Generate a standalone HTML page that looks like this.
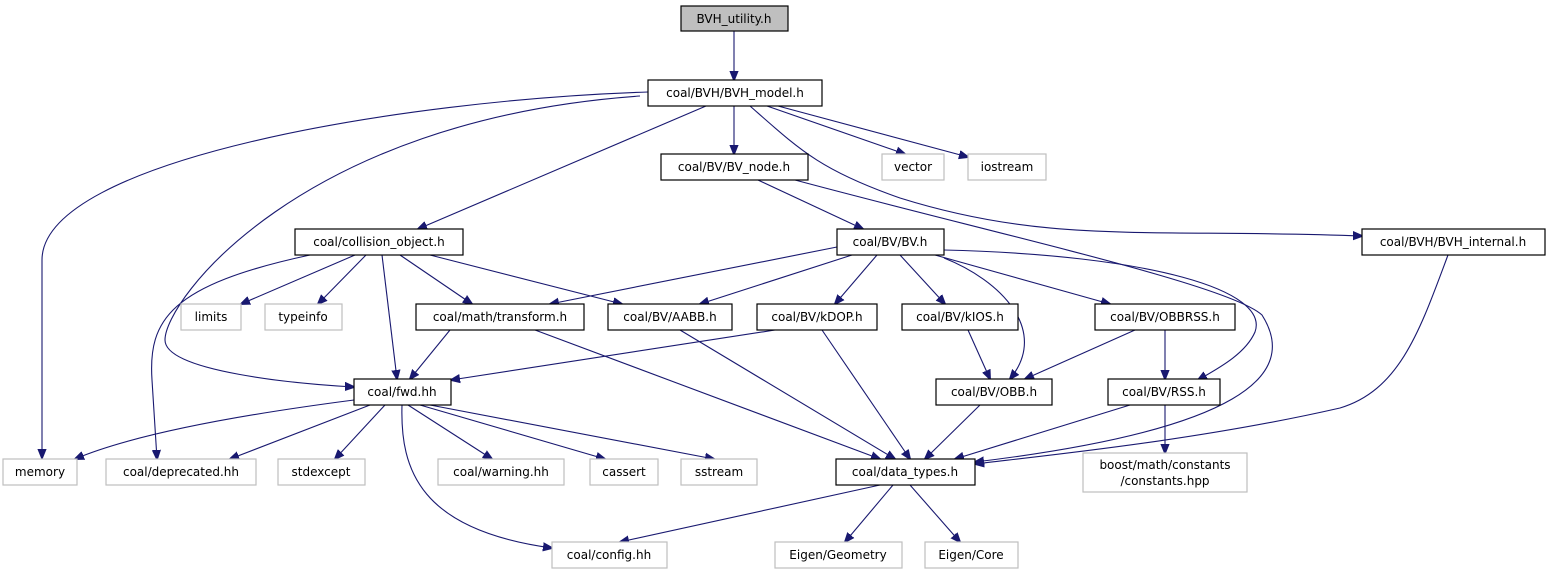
<!DOCTYPE html>
<html><head><meta charset="utf-8"><style>
html,body{margin:0;padding:0;background:#fff;}
svg{display:block;}
text{font-family:"DejaVu Sans","Liberation Sans",sans-serif;font-size:12px;text-anchor:middle;fill:#000;}
.n rect{fill:#fff;stroke:#000;stroke-width:1.2;}
.g rect{fill:#fff;stroke:#bfbfbf;stroke-width:1.2;}
path{fill:none;stroke:#191970;stroke-width:1.1;}
</style></head><body>
<svg width="1550" height="575" viewBox="0 0 1550 575" xmlns="http://www.w3.org/2000/svg">
<defs><marker id="a" markerWidth="10" markerHeight="10" refX="9" refY="5" orient="auto" markerUnits="userSpaceOnUse"><path d="M0,1 L10,5 L0,9 Z" style="fill:#191970;stroke:#191970"/></marker></defs>
<g marker-end="url(#a)">
<path d="M734,31 L734,80"/>
<path d="M648,92 C400,100 42,160 42,260 L42,458"/>
<path d="M640,96 C300,120 165,300 165,340 C165,372 300,384 354,387"/>
<path d="M706,106 L418,229"/>
<path d="M734,106 L734,154"/>
<path d="M767,106 L905,154"/>
<path d="M778,106 L968,157"/>
<path d="M750,106 C800,150 820,170 900,198 C1050,245 1150,228 1362,236"/>
<path d="M758,180 L863,229"/>
<path d="M795,180 C1000,235 1230,285 1262,315 C1300,375 1240,430 975,462"/>
<path d="M1448,255 C1420,330 1400,390 1340,408 C1200,440 1050,455 975,464"/>
<path d="M355,255 L241,304"/>
<path d="M366,255 L318,304"/>
<path d="M400,255 L472,304"/>
<path d="M430,255 L622,304"/>
<path d="M382,255 L397,379"/>
<path d="M310,255 C170,285 148,320 152,380 L157,459"/>
<path d="M837,247 L550,304"/>
<path d="M852,255 L700,304"/>
<path d="M877,255 L835,304"/>
<path d="M900,255 L945,304"/>
<path d="M935,255 L1110,304"/>
<path d="M944,258 C1000,280 1050,330 1010,379"/>
<path d="M944,250 C1150,255 1270,290 1255,332 C1245,355 1215,370 1198,380"/>
<path d="M450,330 L410,379"/>
<path d="M535,330 L880,459"/>
<path d="M680,330 L895,459"/>
<path d="M775,330 L451,380"/>
<path d="M822,330 L910,459"/>
<path d="M968,330 L990,379"/>
<path d="M1135,330 L1025,379"/>
<path d="M1165,330 L1165,379"/>
<path d="M980,405 L925,459"/>
<path d="M1130,405 L955,459"/>
<path d="M1165,405 L1165,453"/>
<path d="M354,400 C200,420 120,440 75,459"/>
<path d="M370,405 L230,459"/>
<path d="M385,405 L335,459"/>
<path d="M408,405 L492,459"/>
<path d="M420,405 L605,459"/>
<path d="M430,405 L714,459"/>
<path d="M402,405 C400,470 420,530 552,548"/>
<path d="M880,485 L620,542"/>
<path d="M893,485 L845,542"/>
<path d="M910,485 L960,542"/>
</g>
<g class="n"><rect x="681" y="6" width="107" height="25" style="fill:#bfbfbf"/><text x="734" y="23">BVH_utility.h</text></g>
<g class="n"><rect x="648" y="80" width="174" height="26"/><text x="735" y="97">coal/BVH/BVH_model.h</text></g>
<g class="n"><rect x="661" y="154" width="147" height="26"/><text x="734" y="171">coal/BV/BV_node.h</text></g>
<g class="g"><rect x="882" y="154" width="62" height="26"/><text x="913" y="171">vector</text></g>
<g class="g"><rect x="968" y="154" width="78" height="26"/><text x="1007" y="171">iostream</text></g>
<g class="n"><rect x="295" y="229" width="168" height="26"/><text x="379" y="246">coal/collision_object.h</text></g>
<g class="n"><rect x="837" y="229" width="107" height="26"/><text x="890" y="246">coal/BV/BV.h</text></g>
<g class="n"><rect x="1362" y="229" width="183" height="26"/><text x="1453" y="246">coal/BVH/BVH_internal.h</text></g>
<g class="g"><rect x="181" y="304" width="60" height="26"/><text x="211" y="321">limits</text></g>
<g class="g"><rect x="265" y="304" width="77" height="26"/><text x="303" y="321">typeinfo</text></g>
<g class="n"><rect x="416" y="304" width="168" height="26"/><text x="500" y="321">coal/math/transform.h</text></g>
<g class="n"><rect x="608" y="304" width="124" height="26"/><text x="670" y="321">coal/BV/AABB.h</text></g>
<g class="n"><rect x="757" y="304" width="120" height="26"/><text x="817" y="321">coal/BV/kDOP.h</text></g>
<g class="n"><rect x="902" y="304" width="116" height="26"/><text x="960" y="321">coal/BV/kIOS.h</text></g>
<g class="n"><rect x="1095" y="304" width="140" height="26"/><text x="1165" y="321">coal/BV/OBBRSS.h</text></g>
<g class="n"><rect x="354" y="379" width="97" height="26"/><text x="402" y="396">coal/fwd.hh</text></g>
<g class="n"><rect x="936" y="379" width="116" height="26"/><text x="994" y="396">coal/BV/OBB.h</text></g>
<g class="n"><rect x="1108" y="379" width="112" height="26"/><text x="1164" y="396">coal/BV/RSS.h</text></g>
<g class="g"><rect x="3" y="459" width="74" height="26"/><text x="40" y="476">memory</text></g>
<g class="g"><rect x="106" y="459" width="150" height="26"/><text x="181" y="476">coal/deprecated.hh</text></g>
<g class="g"><rect x="278" y="459" width="87" height="26"/><text x="321" y="476">stdexcept</text></g>
<g class="g"><rect x="438" y="459" width="126" height="26"/><text x="501" y="476">coal/warning.hh</text></g>
<g class="g"><rect x="590" y="459" width="68" height="26"/><text x="624" y="476">cassert</text></g>
<g class="g"><rect x="681" y="459" width="76" height="26"/><text x="719" y="476">sstream</text></g>
<g class="n"><rect x="836" y="459" width="139" height="26"/><text x="905" y="476">coal/data_types.h</text></g>
<g class="g"><rect x="1083" y="453" width="164" height="39"/><text x="1165" y="469">boost/math/constants</text><text x="1165" y="485">/constants.hpp</text></g>
<g class="g"><rect x="552" y="542" width="115" height="26"/><text x="609" y="559">coal/config.hh</text></g>
<g class="g"><rect x="775" y="542" width="127" height="26"/><text x="838" y="559">Eigen/Geometry</text></g>
<g class="g"><rect x="925" y="542" width="93" height="26"/><text x="971" y="559">Eigen/Core</text></g>
</svg>
</body></html>
